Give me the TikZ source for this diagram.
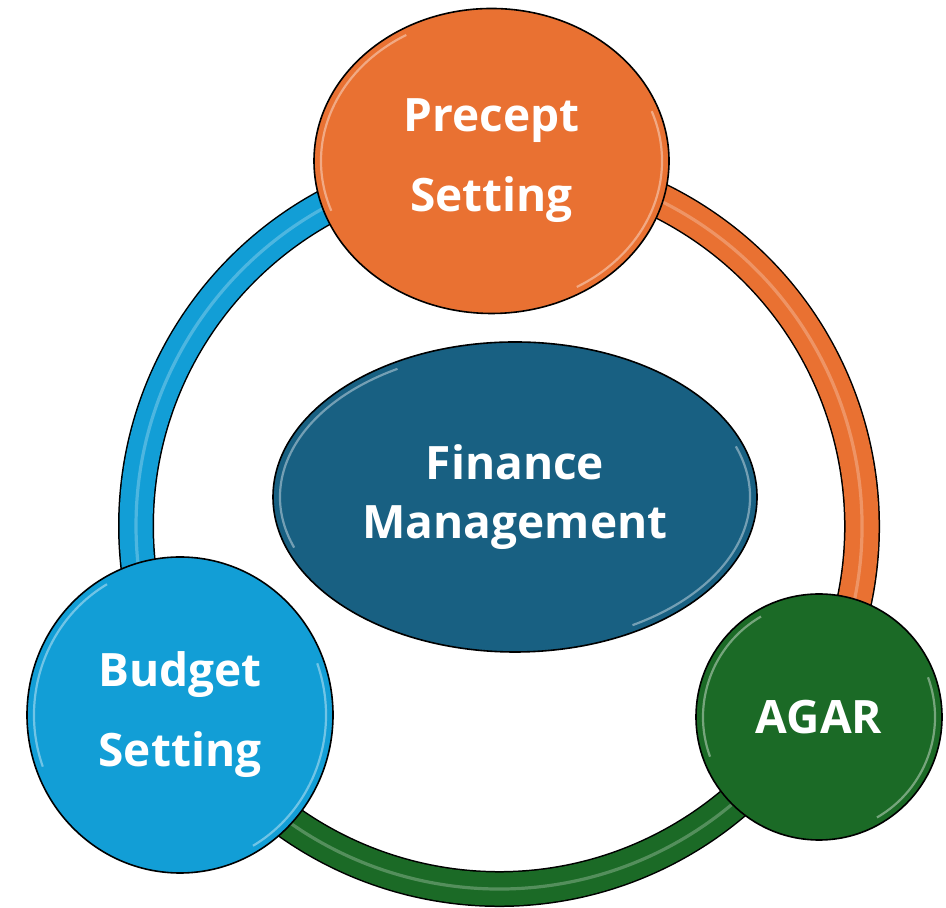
\documentclass[tikz,border=0pt]{standalone}
\usepackage{fontspec}
\setmainfont{Open Sans}
\usepackage{xcolor}
\usetikzlibrary{calc, shapes.geometric, backgrounds}

\definecolor{preceptorange}{HTML}{E97132}
\definecolor{budgetblue}{HTML}{129ED6}
\definecolor{agargreen}{HTML}{1B6A26}
\definecolor{financeteal}{HTML}{186082}
\def\ringr{181.5pt}

\begin{document}
\begin{tikzpicture}[
    x=0.5pt, y=0.5pt,
    main node/.style={ellipse, draw=black, line width=0.8pt, inner sep=0pt, text=white, align=center, font=\fontsize{23}{40}\selectfont\bfseries, gloss},
    gloss/.style={path picture={
        \draw[white, opacity=.4, line width=1.1pt]
        let \p1=(path picture bounding box.north east), \p2=(path picture bounding box.center),
            \n1={\x1-\x2-3.5pt}, \n2={\y1-\y2-3.5pt} in
        ($(\p2)+(120:\n1 and \n2)$) arc[start angle=120, end angle=200, x radius=\n1, y radius=\n2]
        ($(\p2)+(-60:\n1 and \n2)$) arc[start angle=-60, end angle=20, x radius=\n1, y radius=\n2];
    }},
    band/.style={draw=#1, line width=16.5pt, preaction={draw=black, line width=18pt}, postaction={draw=white, opacity=.25, line width=1.6pt}}
]
\useasboundingbox (0,0) rectangle (946,908);

% Main Nodes
\coordinate (hub) at (499,382);
\node[main node, fill=preceptorange, minimum width=177.5pt, minimum height=152.5pt] (precept) at (491.5,747) {Precept\\Setting};
\node[main node, fill=budgetblue, minimum width=153pt, minimum height=158pt] (budget) at (180,193) {Budget\\Setting};
\node[main node, fill=agargreen, minimum width=123pt, minimum height=123pt] (agar) at (819,191) {AGAR};
\node[main node, fill=financeteal, minimum width=242pt, minimum height=155pt, font=\fontsize{23}{29.5}\selectfont\bfseries] (finance) at (515,411) {Finance\\Management};

% Ring bands
\begin{scope}[on background layer]
\draw[band=budgetblue] let \p1=($(precept)-(hub)$), \p2=($(budget)-(hub)$), \n1={atan2(\y1,\x1)}, \n2={atan2(\y2,\x2)+360} in
    ($(hub)+(\n1:\ringr)$) arc[start angle=\n1, end angle=\n2, radius=\ringr];
\draw[band=preceptorange] let \p1=($(agar)-(hub)$), \p2=($(precept)-(hub)$), \n1={atan2(\y1,\x1)}, \n2={atan2(\y2,\x2)} in
    ($(hub)+(\n1:\ringr)$) arc[start angle=\n1, end angle=\n2, radius=\ringr];
\draw[band=agargreen] let \p1=($(budget)-(hub)$), \p2=($(agar)-(hub)$), \n1={atan2(\y1,\x1)}, \n2={atan2(\y2,\x2)} in
    ($(hub)+(\n1:\ringr)$) arc[start angle=\n1, end angle=\n2, radius=\ringr];
\end{scope}
\end{tikzpicture}
\end{document}
